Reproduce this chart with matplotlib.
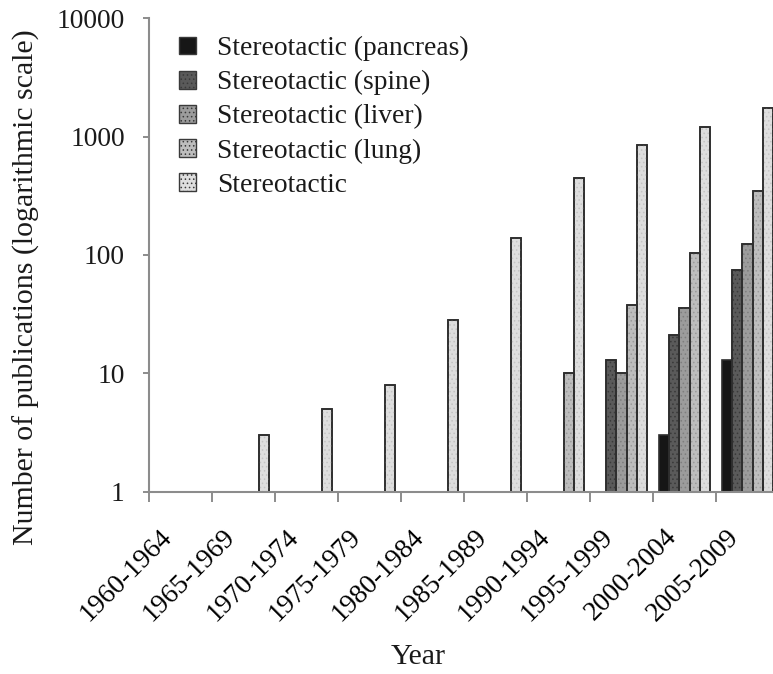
import numpy as np
import matplotlib
matplotlib.use("Agg")
import matplotlib.pyplot as plt
from matplotlib.patches import Patch
from matplotlib.transforms import ScaledTranslation

plt.rcParams['font.family'] = ['Liberation Serif', 'DejaVu Serif']
plt.rcParams['hatch.linewidth'] = 0.6

periods = ["1960-1964", "1965-1969", "1970-1974", "1975-1979", "1980-1984",
           "1985-1989", "1990-1994", "1995-1999", "2000-2004", "2005-2009"]

pancreas = [0, 0, 0, 0, 0, 0, 0, 0, 3, 13]
spine = [0, 0, 0, 0, 0, 0, 0, 13, 21, 75]
liver = [0, 0, 0, 0, 0, 0, 0, 10, 36, 125]
lung = [0, 0, 0, 0, 0, 0, 10, 38, 104, 345]
stereotactic = [0, 3, 5, 8, 28, 140, 450, 850, 1200, 1750]

series_names = ["Stereotactic (pancreas)", "Stereotactic (spine)",
                "Stereotactic (liver)", "Stereotactic (lung)", "Stereotactic"]
series_values = [pancreas, spine, liver, lung, stereotactic]
fills = ["#161616", "#5a5a5a", "#9c9c9c", "#bdbdbd", "#dedede"]
dots = [None, "#3a3a3a", "#7e7e7e", "#9a9a9a", "#c4c4c4"]

FS = 19.8
TITLE_FS = 21.5
W, H = 773, 674
fig = plt.figure(figsize=(W / 100, H / 100), dpi=100)
ax = fig.add_axes([149 / W, (H - 491.7) / H, 630 / W, (491.7 - 18.3) / H])

x = np.arange(len(periods))
bw = 0.16
for i, (vals, fc, dc) in enumerate(zip(series_values, fills, dots)):
    v = np.array(vals, dtype=float)
    keep = v > 0
    xs = x[keep] + (i - 2) * bw
    ax.bar(xs, v[keep], width=bw, bottom=1e-3, color=fc,
           edgecolor="#2e2e2e", linewidth=1.2, zorder=2)
    if dc is not None:
        ax.bar(xs, v[keep], width=bw, bottom=1e-3, color="none",
               edgecolor=dc, linewidth=0, hatch="....", zorder=3)
        ax.bar(xs, v[keep], width=bw, bottom=1e-3, color="none",
               edgecolor="#2e2e2e", linewidth=1.2, zorder=4)

ax.set_yscale("log")
ax.set_ylim(1, 10000)
ax.set_xlim(-0.5, len(periods) - 0.5)
ax.set_yticks([1, 10, 100, 1000, 10000])
ax.set_yticklabels(["1", "10", "100", "1000", "10000"], fontsize=FS)
ax.yaxis.set_minor_locator(matplotlib.ticker.NullLocator())

ax.set_xticks(x)
ax.set_xticklabels(periods, fontsize=FS, rotation=45, ha="right", va="center",
                   rotation_mode="anchor")
ax.set_xticks(np.arange(len(periods) + 1) - 0.5, minor=True)
ax.tick_params(axis="x", which="major", length=0, pad=32)
ax.tick_params(axis="x", which="minor", length=7, width=1.4, color="#8c8c8c")
ax.tick_params(axis="y", which="major", length=4.5, width=1.4, color="#8c8c8c",
               pad=13, labelcolor="#1a1a1a")

# nudge the slanted period labels slightly left and up
shift = ScaledTranslation(-12 / 100, 3 / 100, fig.dpi_scale_trans)
for lbl in ax.get_xticklabels():
    lbl.set_transform(lbl.get_transform() + shift)

for side in ["top", "right"]:
    ax.spines[side].set_visible(False)
for side in ["left", "bottom"]:
    ax.spines[side].set_color("#8c8c8c")
    ax.spines[side].set_linewidth(1.5)
ax.spines["bottom"].set_zorder(5)

handles = []
for name, fc, dc in zip(series_names, fills, dots):
    handles.append(Patch(facecolor=fc, edgecolor="#3a3a3a", linewidth=1.0,
                         hatch="...." if dc else None, label=name))
leg = fig.legend(handles=handles, loc="upper left",
                 bbox_to_anchor=(179 / W, 1 - 36 / H), bbox_transform=fig.transFigure,
                 frameon=False, fontsize=FS, handlelength=0.62, handleheight=0.62,
                 handletextpad=0.75, labelspacing=0.33, borderpad=0, borderaxespad=0)
for t in leg.get_texts():
    t.set_color("#1a1a1a")

fig.text(26 / W, 1 - 287 / H, "Number of publications (logarithmic scale)",
         rotation=90, ha="center", va="center", fontsize=TITLE_FS, color="#1a1a1a")
fig.text(418 / W, 1 - 657 / H, "Year", ha="center", va="center",
         fontsize=TITLE_FS, color="#1a1a1a")

fig.savefig("out.png", dpi=100, facecolor="white")
